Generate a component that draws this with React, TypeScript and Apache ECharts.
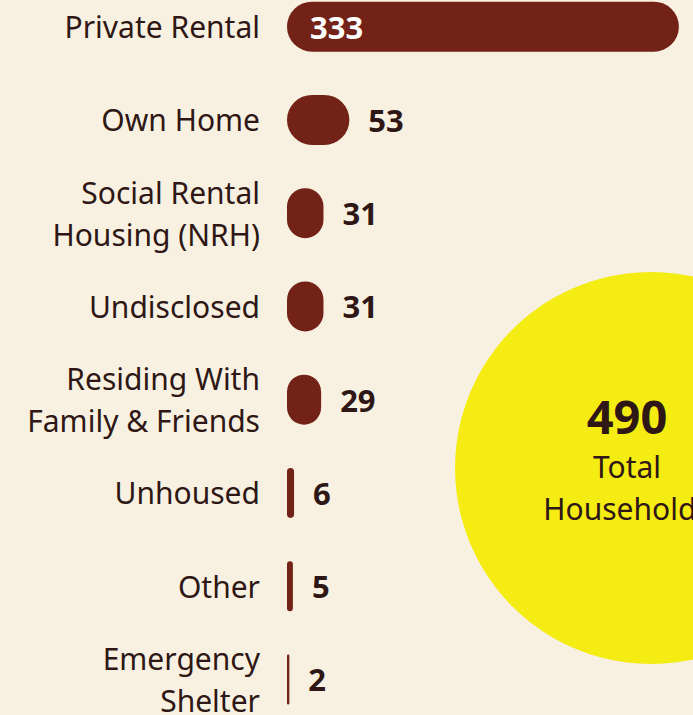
import React, { useEffect, useRef } from "react";
import * as echarts from "echarts";

const categories = [
  "Private Rental",
  "Own Home",
  "Social Rental\nHousing (NRH)",
  "Undisclosed",
  "Residing With\nFamily & Friends",
  "Unhoused",
  "Other",
  "Emergency\nShelter",
];
const households = [333, 53, 31, 31, 29, 6, 5, 2];
const totalValue = "490";
const totalLines = ["Total", "Households"];

const BAR = "#732218";
const TEXT = "#2e1715";
const BG = "#f8f1e1";
const YELLOW = "#f5ec13";
const FONT = "'Noto Sans', sans-serif";
const OFFSET = 20; // chart div shifted up by this many px

export default function App() {
  const ref = useRef<HTMLDivElement>(null);
  useEffect(() => {
    if (!ref.current) return;
    const chart = echarts.init(ref.current, undefined, { renderer: "svg" });
    chart.setOption({
      animation: false,
      backgroundColor: BG,
      textStyle: { fontFamily: FONT },
      grid: { left: 287, right: 0, top: 0, bottom: 0, containLabel: false },
      xAxis: {
        type: "value",
        min: 0,
        max: 345,
        show: false,
      },
      yAxis: {
        type: "category",
        data: categories,
        inverse: true,
        axisLine: { show: false },
        axisTick: { show: false },
        splitLine: { show: false },
        axisLabel: {
          margin: 27,
          fontSize: 30,
          lineHeight: 42,
          color: TEXT,
          fontFamily: FONT,
          align: "right",
        },
      },
      graphic: [
        {
          type: "circle",
          z: -10,
          shape: { cx: 651, cy: 468 + OFFSET, r: 196 },
          style: { fill: YELLOW },
        },
        {
          type: "text",
          x: 627,
          y: 416 + OFFSET,
          style: {
            text: totalValue,
            fill: TEXT,
            font: `bold 47px ${FONT}`,
            textAlign: "center",
            textVerticalAlign: "middle",
          },
        },
        {
          type: "text",
          x: 627,
          y: 466 + OFFSET,
          style: {
            text: totalLines[0],
            fill: TEXT,
            font: `30px ${FONT}`,
            textAlign: "center",
            textVerticalAlign: "middle",
          },
        },
        {
          type: "text",
          x: 627,
          y: 508 + OFFSET,
          style: {
            text: totalLines[1],
            fill: TEXT,
            font: `30px ${FONT}`,
            textAlign: "center",
            textVerticalAlign: "middle",
          },
        },
      ],
      series: [
        {
          type: "bar",
          barWidth: 50,
          z: 5,
          itemStyle: { color: BAR, borderRadius: 25 },
          label: {
            show: true,
            position: "right",
            distance: 19,
            color: TEXT,
            fontSize: 31,
            fontWeight: "bold",
            fontFamily: FONT,
          },
          data: households.map((v, i) =>
            i === 0
              ? {
                  value: v,
                  label: { position: "insideLeft", distance: 23, color: "#ffffff" },
                }
              : v
          ),
        },
      ],
    });
    return () => chart.dispose();
  }, []);
  return (
    <div
      style={{
        position: "absolute",
        left: 0,
        top: 0,
        width: 693,
        height: 715,
        overflow: "hidden",
        background: BG,
      }}
    >
      <div
        ref={ref}
        style={{ position: "absolute", left: 0, top: -OFFSET, width: 693, height: 746 }}
      />
    </div>
  );
}
